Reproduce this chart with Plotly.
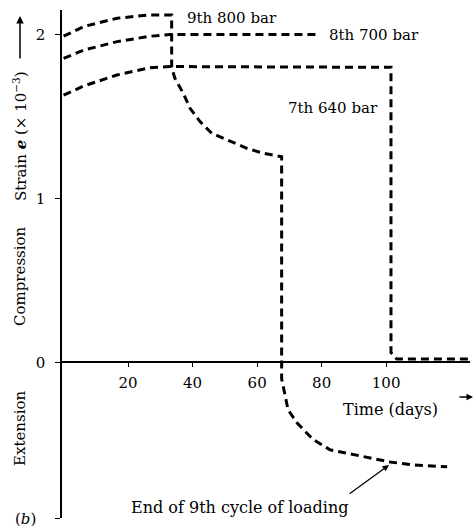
import plotly.graph_objects as go

# ---- data ----
cycle7_days = [0, 6.2, 16.5, 26.8, 33, 101.5, 101.5, 103.3, 106, 110, 115, 120, 126]
cycle7_strain = [1.63, 1.686, 1.753, 1.798, 1.805, 1.80, 0.06, 0.02, 0.02, 0.02, 0.02, 0.02, 0.02]

cycle8_days = [0, 6.4, 16.6, 26.9, 33.1, 78.9]
cycle8_strain = [1.855, 1.906, 1.957, 1.99, 2.0, 2.0]

cycle9_days = [0, 6.4, 16.6, 26.9, 33.5, 33.5, 34.5, 37.1, 39.2, 42.3, 45.9, 50.6, 56.8,
               61.9, 67.6, 67.6, 69.6, 72.4, 77.3, 82.6, 92.8, 101.2, 108.3, 118.9]
cycle9_strain = [1.99, 2.05, 2.10, 2.12, 2.12, 1.80, 1.733, 1.642, 1.55, 1.469, 1.398, 1.357,
                 1.306, 1.276, 1.255, -0.10, -0.29, -0.37, -0.47, -0.534, -0.577, -0.608,
                 -0.626, -0.638]

x_ticks = [20, 40, 60, 80, 100]
y_ticks = [0, 1, 2]
X_RANGE = [-0.5, 126]
Y_RANGE = [-0.95, 2.15]

FONT = "DejaVu Serif"
dash_line = dict(color="black", width=3, dash="8px,5px")

fig = go.Figure()
for xs, ys, name in [(cycle7_days, cycle7_strain, "7th 640 bar"),
                     (cycle8_days, cycle8_strain, "8th 700 bar"),
                     (cycle9_days, cycle9_strain, "9th 800 bar")]:
    fig.add_trace(go.Scatter(x=xs, y=ys, mode="lines", line=dash_line, name=name,
                             showlegend=False, hoverinfo="skip"))

zero_pos = (0 - Y_RANGE[0]) / (Y_RANGE[1] - Y_RANGE[0])

fig.update_layout(
    width=476, height=528,
    margin=dict(l=62, r=6, t=10, b=10),
    paper_bgcolor="white", plot_bgcolor="white",
    font=dict(family=FONT, size=15, color="black"),
    xaxis=dict(range=X_RANGE, anchor="free", position=zero_pos,
               showline=True, linecolor="black", linewidth=1.5,
               ticks="outside", ticklen=4, tickwidth=1.2, tickcolor="black",
               tickvals=x_ticks, ticktext=[str(v) for v in x_ticks],
               ticklabelstandoff=3,
               showgrid=False, zeroline=False,
               tickfont=dict(family=FONT, size=15)),
    yaxis=dict(range=Y_RANGE, showline=True, linecolor="black", linewidth=1.5,
               ticks="outside", ticklen=5, tickwidth=1.2, tickcolor="black",
               tickvals=[Y_RANGE[0]] + y_ticks,
               ticktext=[""] + [str(v) for v in y_ticks],
               ticklabelstandoff=7,
               showgrid=False, zeroline=False,
               tickfont=dict(family=FONT, size=15)),
)

def px2paper_x(p):
    return (p - 62) / 408

def px2paper_y(p):
    return (518 - p) / 508

def paper_text(xp, yp, text, size, angle=0):
    fig.add_annotation(xref="paper", yref="paper", x=px2paper_x(xp), y=px2paper_y(yp),
                       xanchor="center", yanchor="middle", text=text, textangle=angle,
                       showarrow=False, font=dict(size=size))

# curve labels
fig.add_annotation(x=37.6, y=2.10, text="9th 800 bar", showarrow=False, xanchor="left",
                   yanchor="middle", font=dict(size=15))
fig.add_annotation(x=81.7, y=2.0, text="8th 700 bar", showarrow=False, xanchor="left",
                   yanchor="middle", font=dict(size=15))
fig.add_annotation(x=98.2, y=1.55, text="7th 640 bar", showarrow=False, xanchor="right",
                   yanchor="middle", font=dict(size=15))
fig.add_annotation(x=101.2, y=-0.29, text="Time (days)", showarrow=False,
                   yanchor="middle", font=dict(size=16))
# time arrow
fig.add_annotation(xref="paper", yref="paper", x=px2paper_x(473), y=px2paper_y(397),
                   ax=-15, ay=0, text="", showarrow=True, arrowhead=2, arrowsize=1,
                   arrowwidth=1.3, arrowcolor="black")

# y-axis titles
paper_text(20, 136, "Strain <b><i>e</i></b> (× 10<sup>−3</sup>)", 15, -90)
fig.add_annotation(xref="paper", yref="paper", x=px2paper_x(20), y=px2paper_y(16),
                   ax=0, ay=44, text="", showarrow=True, arrowhead=2, arrowsize=1,
                   arrowwidth=1.5, arrowcolor="black")
paper_text(20, 276, "Compression", 15, -90)
paper_text(20, 428, "Extension", 15, -90)
paper_text(25, 519, "(<i>b</i>)", 15)

# end-of-cycle annotation
paper_text(239, 507, "End of 9th cycle of loading", 16)
fig.add_annotation(x=100.9, y=-0.626, ax=-41, ay=30, text="", showarrow=True,
                   arrowhead=2, arrowsize=1, arrowwidth=1.3, arrowcolor="black")

fig.write_html("out.html", config={"displayModeBar": False},
               post_script="document.body.style.margin='0';document.body.style.overflow='hidden';")
